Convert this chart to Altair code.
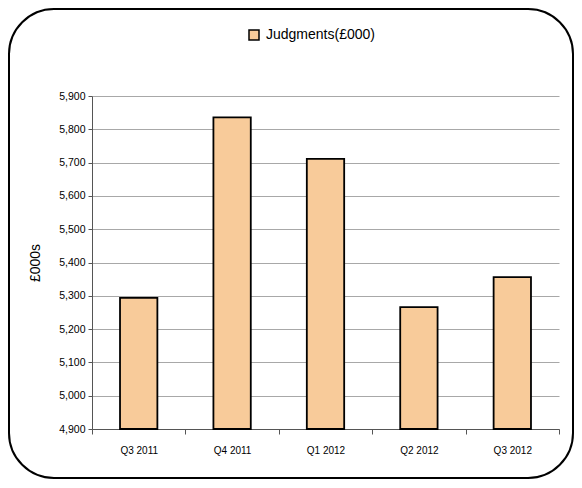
import altair as alt
import pandas as pd

quarters = ["Q3 2011", "Q4 2011", "Q1 2012", "Q2 2012", "Q3 2012"]
values = [5294, 5836, 5711, 5266, 5356]
series = ["Judgments(£000)"] * 5
baseline = 4900

df = pd.DataFrame({"quarter": quarters, "value": values, "series": series})
frame_df = pd.DataFrame({"k": [0]})

W, H = 467, 333
FONT = "Liberation Sans"

bars = alt.Chart(df).mark_bar(
    width=alt.RelativeBandSize(0.4), stroke="black", strokeWidth=1.8
).encode(
    x=alt.X("quarter:N", sort=quarters, title=None,
            scale=alt.Scale(paddingInner=0, paddingOuter=0),
            axis=alt.Axis(labelAngle=0, labelFontSize=10, labelFont=FONT, labelColor="black",
                          tickBand="extent", tickSize=5, tickColor="#555", domainColor="#555",
                          labelPadding=11, grid=False)),
    y=alt.Y("value:Q", title="£000s",
            scale=alt.Scale(domain=[4900, 5900], nice=False, zero=False),
            axis=alt.Axis(values=list(range(4900, 5901, 100)), format=",d", labelFontSize=10.5,
                          labelFont=FONT, labelColor="black", tickSize=4, tickColor="#555",
                          domainColor="#555", gridColor="#a8a8a8", labelPadding=3,
                          titleFont=FONT, titleFontSize=14, titleFontWeight="normal",
                          titleColor="black", titleX=-57, titleY=H / 2, titleBaseline="middle",
                          titleAlign="center", titleAngle=-90)),
    y2=alt.Y2(datum=baseline),
    color=alt.Color("series:N", scale=alt.Scale(range=["#F8CB9A"]),
                    legend=alt.Legend(title=None, orient="none", legendX=155, legendY=-68,
                                      symbolType="square", symbolSize=100,
                                      symbolStrokeColor="black", symbolStrokeWidth=1.5,
                                      labelFont=FONT, labelFontSize=14, labelColor="black",
                                      labelOffset=5)),
)

frame = alt.Chart(frame_df).mark_rect(
    fill="transparent", stroke="black", strokeWidth=2, cornerRadius=45, clip=False
).encode(
    x=alt.value(-83), x2=alt.value(W + 14), y=alt.value(-87), y2=alt.value(H + 49)
)

chart = alt.layer(frame, bars).properties(
    width=W, height=H,
    autosize=alt.AutoSizeParams(type="none"),
    padding={"left": 84, "top": 88, "right": 15, "bottom": 51},
    background="white",
).configure_view(stroke=None)

chart.save("out.html", embed_options={"renderer": "svg", "actions": False})
